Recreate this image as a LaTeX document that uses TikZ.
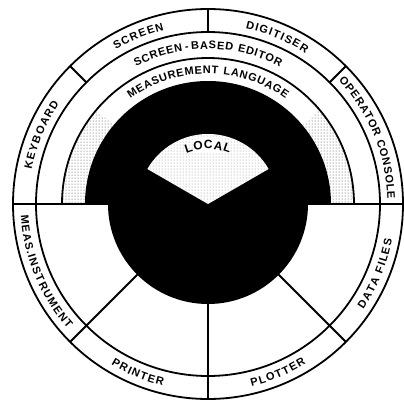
\documentclass[tikz,border=0pt]{standalone}
\usepackage{fontspec}
\newfontfamily\labfont{Liberation Sans Bold}
\newcommand\dlab{\labfont\fontsize{11}{13}\selectfont}
\newcommand\dlocal{\labfont\fontsize{12}{14}\selectfont}
\newcommand\ks{\kern1.3pt}
\newcommand\kt{\kern0.7pt}
\newcommand\kw{\kern5pt}
\usetikzlibrary{decorations.text,patterns}
\tikzset{
  ring/.style={line width=1.8pt},
  toplabel/.style={decorate,decoration={text along path,text align=center,text={|\dlab|#1}}},
  botlabel/.style={decorate,decoration={text along path,text align=center,text={|\dlab|#1}}},
  stipple/.style={pattern=dots,pattern color=black!75},
  faint/.style={pattern=dots,pattern color=black!45}
}
\begin{document}
\begin{tikzpicture}[x=1pt,y=1pt]
\useasboundingbox (-208,-196) rectangle (196,204);
\fill[white] (-208,-196) rectangle (196,204);
\coordinate (O) at (0,0);
% outer circles
\draw[ring] (O) circle[radius=195];
\draw[ring] (O) circle[radius=172];
% upper inner ring boundary
\draw[ring] (0:146) arc[start angle=0,end angle=180,radius=146];
% stippled sides of the measurement-language ring
\path[stipple] (0:123) -- (0:146) arc[start angle=0,end angle=40,radius=146] -- (40:123) arc[start angle=40,end angle=0,radius=123] -- cycle;
\path[stipple] (140:123) -- (140:146) arc[start angle=140,end angle=180,radius=146] -- (180:123) arc[start angle=180,end angle=140,radius=123] -- cycle;
% black core
\fill (0:123) arc[start angle=0,end angle=180,radius=123] -- cycle;
\fill (180:100) arc[start angle=180,end angle=360,radius=100] -- cycle;
% horizontal diameter
\draw[ring] (180:195) -- (0:195);
% dividers
\foreach \a in {45,90,135} \draw[ring] (\a:172) -- (\a:195);
\foreach \a in {225,270,315} \draw[ring] (\a:100) -- (\a:195);
% LOCAL fan
\fill[white] (O) -- (30:70) arc[start angle=30,end angle=150,radius=70] -- cycle;
\path[faint] (O) -- (30:70) arc[start angle=30,end angle=150,radius=70] -- cycle;
\fill[white] (76:52) arc[start angle=76,end angle=104,radius=52] -- (104:66) arc[start angle=104,end angle=76,radius=66] -- cycle;
% labels, upper half (tops outward)
\path[toplabel={{K\ks}{E\ks}{Y\ks}{B\ks}{O\ks}{A\ks}{R\ks}D}] (184:179.5) arc[start angle=184,end angle=131,radius=179.5];
\path[toplabel={{S\ks}{C\ks}{R\ks}{E\ks}{E\ks}N}] (139:179.5) arc[start angle=139,end angle=86,radius=179.5];
\path[toplabel={{D\ks}{I\ks}{G\ks}{I\ks}{T\ks}{I\ks}{S\ks}{E\ks}R}] (94:179.5) arc[start angle=94,end angle=41,radius=179.5];
\path[toplabel={{O\kt}{P\kt}{E\kt}{R\kt}{A\kt}{T\kt}{O\kt}{R\kw}{C\kt}{O\kt}{N\kt}{S\kt}{O\kt}{L\kt}E}] (49:179.5) arc[start angle=49,end angle=-4,radius=179.5];
\path[toplabel={{S\kt}{C\kt}{R\kt}{E\kt}{E\kt}{N\ks\ks}{-\ks\ks}{B\kt}{A\kt}{S\kt}{E\kt}{D\kw}{E\kt}{D\kt}{I\kt}{T\kt}{O\kt}R}] (140:155) arc[start angle=140,end angle=40,radius=155];
\path[toplabel={{M\kt}{E\kt}{A\kt}{S\kt}{U\kt}{R\kt}{E\kt}{M\kt}{E\kt}{N\kt}{T\kw}{L\kt}{A\kt}{N\kt}{G\kt}{U\kt}{A\kt}{G\kt}E}] (150:130.5) arc[start angle=150,end angle=30,radius=130.5];
\path[decorate,decoration={text along path,text align=center,text={|\dlocal|{L\kt}{O\kt}{C\kt}{A\kt}L}}] (125:55) arc[start angle=125,end angle=55,radius=55];
% labels, lower half (tops inward)
\path[botlabel={{M\ks}{E\ks}{A\ks}{S\ks}{.\ks}{I\ks}{N\ks}{S\ks}{T\ks}{R\ks}{U\ks}{M\ks}{E\ks}{N\ks}T}] (176:187.5) arc[start angle=176,end angle=229,radius=187.5];
\path[botlabel={{P\ks}{R\ks}{I\ks}{N\ks}{T\ks}{E\ks}R}] (221:187.5) arc[start angle=221,end angle=274,radius=187.5];
\path[botlabel={{P\ks}{L\ks}{O\ks}{T\ks}{T\ks}{E\ks}R}] (266:187.5) arc[start angle=266,end angle=319,radius=187.5];
\path[botlabel={{D\ks}{A\ks}{T\ks}{A\kw}{F\ks}{I\ks}{L\ks}{E\ks}S}] (311:187.5) arc[start angle=311,end angle=364,radius=187.5];
\end{tikzpicture}
\end{document}
